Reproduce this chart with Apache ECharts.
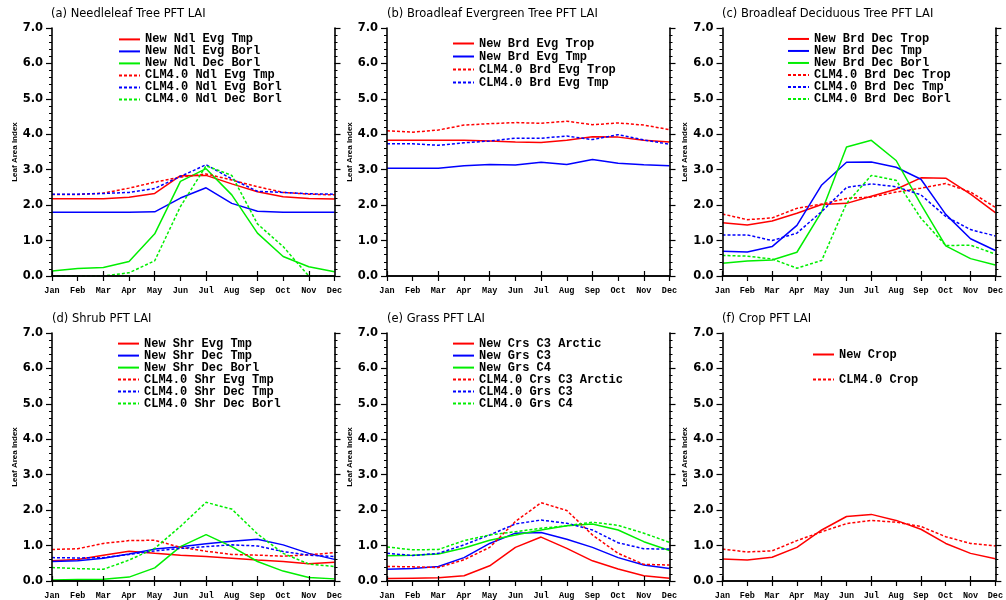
<!DOCTYPE html>
<html><head><meta charset="utf-8">
<script src="https://cdn.jsdelivr.net/npm/echarts@6/dist/echarts.min.js"></script>
<style>html,body{margin:0;padding:0;background:#fff}#c{width:1006px;height:600px}</style>
</head><body><div id="c"></div>
<script>
const months = ['Jan','Feb','Mar','Apr','May','Jun','Jul','Aug','Sep','Oct','Nov','Dec'];
const yTickValues = [0,1,2,3,4,5,6,7];

const panelTitles = ['(a) Needleleaf Tree PFT LAI','(b) Broadleaf Evergreen Tree PFT LAI','(c) Broadleaf Deciduous Tree PFT LAI','(d) Shrub PFT LAI','(e) Grass PFT LAI','(f) Crop PFT LAI'];

// (a) Needleleaf
const newNdlEvgTmp  = [2.18,2.18,2.18,2.22,2.33,2.83,2.84,2.60,2.38,2.24,2.19,2.17];
const newNdlEvgBorl = [1.80,1.80,1.80,1.80,1.81,2.20,2.49,2.05,1.83,1.80,1.80,1.80];
const newNdlDecBorl = [0.14,0.21,0.24,0.41,1.19,2.67,3.03,2.29,1.21,0.55,0.26,0.12];
const clmNdlEvgTmp  = [2.30,2.30,2.34,2.48,2.65,2.79,2.88,2.71,2.52,2.36,2.31,2.29];
const clmNdlEvgBorl = [2.31,2.31,2.33,2.36,2.47,2.81,3.14,2.74,2.39,2.36,2.32,2.31];
const clmNdlDecBorl = [0.00,0.00,0.00,0.09,0.43,1.96,3.11,2.84,1.47,0.83,0.00,0.00];
// (b) Broadleaf evergreen
const newBrdEvgTrop = [3.83,3.83,3.83,3.83,3.81,3.78,3.77,3.83,3.93,3.92,3.83,3.78];
const newBrdEvgTmp  = [3.04,3.04,3.04,3.11,3.15,3.13,3.21,3.15,3.29,3.18,3.14,3.11];
const clmBrdEvgTrop = [4.10,4.06,4.12,4.26,4.30,4.33,4.31,4.37,4.27,4.32,4.26,4.13];
const clmBrdEvgTmp  = [3.73,3.73,3.69,3.76,3.81,3.89,3.89,3.95,3.85,3.99,3.84,3.72];
// (c) Broadleaf deciduous
const newBrdDecTrop = [1.50,1.44,1.55,1.77,2.02,2.05,2.25,2.45,2.77,2.76,2.31,1.79];
const newBrdDecTmp  = [0.70,0.68,0.83,1.43,2.57,3.21,3.22,3.07,2.73,1.74,1.05,0.72];
const newBrdDecBorl = [0.36,0.42,0.45,0.67,1.82,3.64,3.83,3.26,2.02,0.85,0.49,0.31];
const clmBrdDecTrop = [1.75,1.59,1.64,1.91,2.03,2.19,2.23,2.37,2.48,2.61,2.37,1.94];
const clmBrdDecTmp  = [1.16,1.16,1.00,1.21,1.82,2.50,2.60,2.52,2.29,1.68,1.31,1.13];
const clmBrdDecBorl = [0.58,0.56,0.48,0.22,0.44,2.05,2.84,2.70,1.63,0.86,0.87,0.62];
// (d) Shrub
const newShrEvgTmp  = [0.57,0.61,0.73,0.84,0.78,0.73,0.69,0.64,0.59,0.55,0.49,0.53];
const newShrDecTmp  = [0.55,0.57,0.64,0.76,0.90,0.97,1.05,1.12,1.18,1.02,0.78,0.61];
const newShrDecBorl = [0.03,0.04,0.05,0.11,0.37,0.97,1.31,0.97,0.55,0.28,0.10,0.06];
const clmShrEvgTmp  = [0.89,0.91,1.06,1.14,1.15,0.95,0.84,0.75,0.73,0.70,0.74,0.80];
const clmShrDecTmp  = [0.66,0.65,0.66,0.75,0.85,0.92,0.97,1.02,0.99,0.83,0.73,0.69];
const clmShrDecBorl = [0.38,0.35,0.33,0.59,0.92,1.54,2.22,2.03,1.33,0.78,0.48,0.41];
// (e) Grass
const newCrsC3Arctic = [0.07,0.08,0.09,0.15,0.43,0.95,1.24,0.92,0.57,0.34,0.15,0.08];
const newGrsC3       = [0.33,0.35,0.41,0.66,1.06,1.35,1.37,1.18,0.95,0.66,0.45,0.35];
const newGrsC4       = [0.71,0.73,0.76,0.93,1.15,1.30,1.44,1.56,1.61,1.44,1.11,0.86];
const clmCrsC3Arctic = [0.41,0.40,0.38,0.60,0.95,1.68,2.21,1.99,1.30,0.78,0.47,0.45];
const clmGrsC3       = [0.78,0.72,0.78,1.02,1.30,1.61,1.72,1.63,1.44,1.08,0.91,0.90];
const clmGrsC4       = [0.96,0.88,0.89,1.14,1.30,1.39,1.49,1.56,1.66,1.57,1.35,1.09];
// (f) Crop
const newCrop = [0.62,0.59,0.67,0.95,1.44,1.82,1.88,1.71,1.46,1.06,0.78,0.63];
const clmCrop = [0.90,0.82,0.85,1.14,1.39,1.62,1.71,1.66,1.54,1.25,1.06,0.99];

const RED='#ff0000', BLUE='#0000ff', GREEN='#00ee00';

const panels = [
  {series:[['New Ndl Evg Tmp',newNdlEvgTmp,RED,0],['New Ndl Evg Borl',newNdlEvgBorl,BLUE,0],['New Ndl Dec Borl',newNdlDecBorl,GREEN,0],
           ['CLM4.0 Ndl Evg Tmp',clmNdlEvgTmp,RED,1],['CLM4.0 Ndl Evg Borl',clmNdlEvgBorl,BLUE,1],['CLM4.0 Ndl Dec Borl',clmNdlDecBorl,GREEN,1]]},
  {series:[['New Brd Evg Trop',newBrdEvgTrop,RED,0],['New Brd Evg Tmp',newBrdEvgTmp,BLUE,0],
           ['CLM4.0 Brd Evg Trop',clmBrdEvgTrop,RED,1],['CLM4.0 Brd Evg Tmp',clmBrdEvgTmp,BLUE,1]]},
  {series:[['New Brd Dec Trop',newBrdDecTrop,RED,0],['New Brd Dec Tmp',newBrdDecTmp,BLUE,0],['New Brd Dec Borl',newBrdDecBorl,GREEN,0],
           ['CLM4.0 Brd Dec Trop',clmBrdDecTrop,RED,1],['CLM4.0 Brd Dec Tmp',clmBrdDecTmp,BLUE,1],['CLM4.0 Brd Dec Borl',clmBrdDecBorl,GREEN,1]]},
  {series:[['New Shr Evg Tmp',newShrEvgTmp,RED,0],['New Shr Dec Tmp',newShrDecTmp,BLUE,0],['New Shr Dec Borl',newShrDecBorl,GREEN,0],
           ['CLM4.0 Shr Evg Tmp',clmShrEvgTmp,RED,1],['CLM4.0 Shr Dec Tmp',clmShrDecTmp,BLUE,1],['CLM4.0 Shr Dec Borl',clmShrDecBorl,GREEN,1]]},
  {series:[['New Crs C3 Arctic',newCrsC3Arctic,RED,0],['New Grs C3',newGrsC3,BLUE,0],['New Grs C4',newGrsC4,GREEN,0],
           ['CLM4.0 Crs C3 Arctic',clmCrsC3Arctic,RED,1],['CLM4.0 Grs C3',clmGrsC3,BLUE,1],['CLM4.0 Grs C4',clmGrsC4,GREEN,1]]},
  {series:[['New Crop',newCrop,RED,0],['CLM4.0 Crop',clmCrop,RED,1]]}
];

// layout
const gridLefts = [52, 387, 722.5, 52, 387, 722.5];
const gridTops = [28, 28, 28, 333, 333, 333];
const GW = 282.5, GH = 248;
const titlePos = [[51,8],[387,8],[722,8],[52,313],[387,313],[722,313]];
const legendPos = [ // left, first row center, row spacing
  [118, 38.7, 10.6],[452, 43, 12],[787, 38.3, 10.7],
  [117, 343, 10.8],[452, 343, 10.8],[812, 354, 24]
];

const grid=[], xAxis=[], yAxis=[], series=[], legend=[], title=[];
const axisLineStyle = {lineStyle:{color:'#000', width:1.6}};
panels.forEach((p,i)=>{
  grid.push({left:gridLefts[i], top:gridTops[i], width:GW, height:GH});
  const xBase = {type:'category', data:months, boundaryGap:false, gridIndex:i, z:5,
    axisLine:axisLineStyle, axisTick:{show:true, length:5, lineStyle:{color:'#000', width:1.2}},
    splitLine:{show:false}};
  xAxis.push(Object.assign({}, xBase, {position:'bottom',
    axisLabel:{show:true, interval:0, margin:10, color:'#000', fontFamily:'Liberation Mono', fontWeight:'bold', fontSize:8.5}}));
  xAxis.push(Object.assign({}, xBase, {position:'top', axisLabel:{show:false}}));
  const yBase = {type:'value', min:yTickValues[0], max:yTickValues[yTickValues.length-1], interval:1, gridIndex:i, z:5,
    axisLine:Object.assign({show:true}, axisLineStyle),
    axisTick:{show:true, length:6, lineStyle:{color:'#000', width:1.2}},
    minorTick:{show:true, splitNumber:5, length:3, lineStyle:{color:'#000', width:1}},
    splitLine:{show:false}, minorSplitLine:{show:false}};
  yAxis.push(Object.assign({}, yBase, {position:'left',
    name:'Leaf Area Index', nameLocation:'middle', nameGap:29, nameRotate:90,
    nameTextStyle:{fontFamily:'Liberation Sans', fontWeight:'bold', fontSize:8, color:'#000'},
    axisLabel:{show:true, margin:9, color:'#000', fontFamily:'DejaVu Sans', fontWeight:'bold', fontSize:11.5,
      formatter:v=>v.toFixed(1)}}));
  yAxis.push(Object.assign({}, yBase, {position:'right', axisLabel:{show:false}}));
  title.push({text:panelTitles[i], left:titlePos[i][0], top:titlePos[i][1], padding:0,
    textStyle:{fontFamily:'DejaVu Sans', fontWeight:'normal', fontSize:11.5, color:'#000'}});
  const [ll, lc, ls] = legendPos[i];
  const lh = Math.min(ls, 11);
  legend.push({orient:'vertical', left:ll, top:lc - lh/2, padding:0, itemGap:ls - lh,
    itemWidth:21, itemHeight:2, selectedMode:false,
    itemStyle:{opacity:0},
    textStyle:{fontFamily:'Liberation Mono', fontWeight:'bold', fontSize:12, color:'#000', lineHeight:lh},
    data:p.series.map(s=>s[0])});
  p.series.forEach(s=>{
    series.push({type:'line', name:s[0], data:s[1], xAxisIndex:2*i, yAxisIndex:2*i,
      symbol:'none', showSymbol:false, animation:false, clip:true, silent:true,
      lineStyle:{color:s[2], width:1.5, type:s[3] ? [3,2] : 'solid'},
      itemStyle:{color:s[2]}});
  });
});

const chart = echarts.init(document.getElementById('c'), null, {renderer:'canvas'});
chart.setOption({backgroundColor:'#fff', animation:false, title, grid, xAxis, yAxis, legend, series});
</script></body></html>
